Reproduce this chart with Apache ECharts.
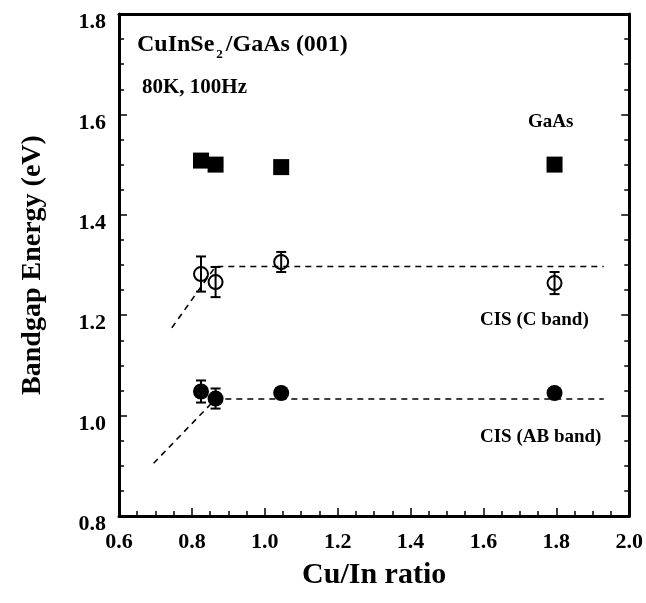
<!DOCTYPE html>
<html><head><meta charset="utf-8">
<script src="https://cdn.jsdelivr.net/npm/echarts@6/dist/echarts.min.js"></script>
<style>html,body{margin:0;padding:0;background:#fff}#c{width:646px;height:603px}</style>
</head><body><div id="c"></div>
<script>
var xTicks = [0.6, 0.8, 1.0, 1.2, 1.4, 1.6, 1.8, 2.0];
var yTicks = [0.8, 1.0, 1.2, 1.4, 1.6, 1.8];
var cuInRatio = [0.825, 0.865, 1.045, 1.795];
var gaasEnergy = [1.508, 1.500, 1.495, 1.500];
var cBandEnergy = [1.282, 1.266, 1.306, 1.264];
var cBandErr = [0.035, 0.030, 0.020, 0.022];
var abBandEnergy = [1.048, 1.034, 1.045, 1.045];
var abBandErr = [0.022, 0.020, 0, 0];
var cBandFitX = [0.745, 0.865, 1.93];
var cBandFitY = [1.175, 1.297, 1.297];
var abBandFitX = [0.695, 0.865, 1.93];
var abBandFitY = [0.905, 1.033, 1.033];

var FONT = '"Liberation Serif","Times New Roman",serif';
function pairs(xs, ys){ return xs.map(function(x,i){ return [x, ys[i]]; }); }
function errData(xs, ys, es){
  var out = [];
  xs.forEach(function(x,i){ if (es[i] > 0) out.push([x, ys[i]-es[i], ys[i]+es[i]]); });
  return out;
}
function errRender(params, api){
  var x = api.value(0), lo = api.value(1), hi = api.value(2);
  var p1 = api.coord([x, lo]), p2 = api.coord([x, hi]);
  var w = 5;
  var st = {stroke:'#000', lineWidth:2};
  return {type:'group', children:[
    {type:'line', shape:{x1:p1[0],y1:p1[1],x2:p2[0],y2:p2[1]}, style:st},
    {type:'line', shape:{x1:p1[0]-w,y1:p1[1],x2:p1[0]+w,y2:p1[1]}, style:st},
    {type:'line', shape:{x1:p2[0]-w,y1:p2[1],x2:p2[0]+w,y2:p2[1]}, style:st}
  ]};
}
var chart = echarts.init(document.getElementById('c'));
var axisLbl = {color:'#000', fontFamily:FONT, fontWeight:'bold', fontSize:22};
chart.setOption({
  animation:false,
  backgroundColor:'#fff',
  grid:{left:119, right:16, top:14, bottom:87},
  xAxis:[{
    type:'value', min:xTicks[0], max:xTicks[xTicks.length-1], interval:0.2,
    axisLine:{show:true, onZero:false, lineStyle:{color:'#000', width:3}},
    axisTick:{show:true, inside:true, length:8, lineStyle:{color:'#000', width:1.5}},
    minorTick:{show:true, splitNumber:4, length:5, lineStyle:{color:'#000', width:1.5}},
    splitLine:{show:false},
    axisLabel:Object.assign({margin:15, formatter:function(v){return v.toFixed(1);}}, axisLbl),
    name:'Cu/In ratio', nameLocation:'middle', nameGap:44,
    nameTextStyle:{color:'#000', fontFamily:FONT, fontWeight:'bold', fontSize:30}
  },{
    type:'value', position:'top', min:0.6, max:2.0,
    axisLine:{show:true, onZero:false, lineStyle:{color:'#000', width:3}},
    axisTick:{show:false}, axisLabel:{show:false}, splitLine:{show:false}
  }],
  yAxis:[{
    type:'value', min:yTicks[0], max:yTicks[yTicks.length-1], interval:0.2,
    axisLine:{show:true, onZero:false, lineStyle:{color:'#000', width:3}},
    axisTick:{show:true, inside:true, length:8, lineStyle:{color:'#000', width:1.5}},
    minorTick:{show:true, splitNumber:4, length:5, lineStyle:{color:'#000', width:1.5}},
    splitLine:{show:false},
    axisLabel:Object.assign({margin:13, verticalAlign:'top', lineHeight:17, formatter:function(v){return v.toFixed(1);}}, axisLbl),
    name:'Bandgap Energy (eV)', nameLocation:'middle', nameGap:72,
    nameTextStyle:{color:'#000', fontFamily:FONT, fontWeight:'bold', fontSize:28}
  },{
    type:'value', position:'right', min:0.8, max:1.8, interval:0.2,
    axisLine:{show:true, onZero:false, lineStyle:{color:'#000', width:3}},
    axisTick:{show:true, inside:true, length:8, lineStyle:{color:'#000', width:1.5}},
    minorTick:{show:true, splitNumber:4, length:5, lineStyle:{color:'#000', width:1.5}},
    axisLabel:{show:false}, splitLine:{show:false}
  }],
  series:[
    {type:'line', data:pairs(cBandFitX, cBandFitY), symbol:'none', z:1,
     lineStyle:{color:'#000', width:1.6, type:[6,5]}},
    {type:'line', data:pairs(abBandFitX, abBandFitY), symbol:'none', z:1,
     lineStyle:{color:'#000', width:1.6, type:[6,5]}},
    {type:'custom', renderItem:errRender, data:errData(cuInRatio, cBandEnergy, cBandErr), z:3},
    {type:'custom', renderItem:errRender, data:errData(cuInRatio, abBandEnergy, abBandErr), z:3},
    {type:'scatter', data:pairs(cuInRatio, gaasEnergy), symbol:'rect', symbolSize:16, z:4,
     itemStyle:{color:'#000', opacity:1}},
    {type:'scatter', data:pairs(cuInRatio, cBandEnergy), symbol:'circle', symbolSize:14, z:4,
     itemStyle:{color:'rgba(0,0,0,0)', borderColor:'#000', borderWidth:2, opacity:1}},
    {type:'scatter', data:pairs(cuInRatio, abBandEnergy), symbol:'circle', symbolSize:16, z:4,
     itemStyle:{color:'#000', opacity:1}}
  ],
  graphic:[
    {type:'text', left:137, top:33, style:{
      text:'{m|CuInSe}{s|2}{m|/GaAs (001)}',
      rich:{m:{fontFamily:FONT, fontWeight:'bold', fontSize:24, fill:'#000'},
            s:{fontFamily:FONT, fontWeight:'bold', fontSize:13, fill:'#000', padding:[20,3,0,2]}}
    }},
    {type:'text', left:142, top:77, style:{text:'80K, 100Hz', font:'bold 21px '+FONT, fill:'#000'}},
    {type:'text', left:528, top:113, style:{text:'GaAs', font:'bold 19px '+FONT, fill:'#000'}},
    {type:'text', left:480, top:311, style:{text:'CIS (C band)', font:'bold 19px '+FONT, fill:'#000'}},
    {type:'text', left:480, top:428, style:{text:'CIS (AB band)', font:'bold 19px '+FONT, fill:'#000'}}
  ]
});
</script></body></html>
